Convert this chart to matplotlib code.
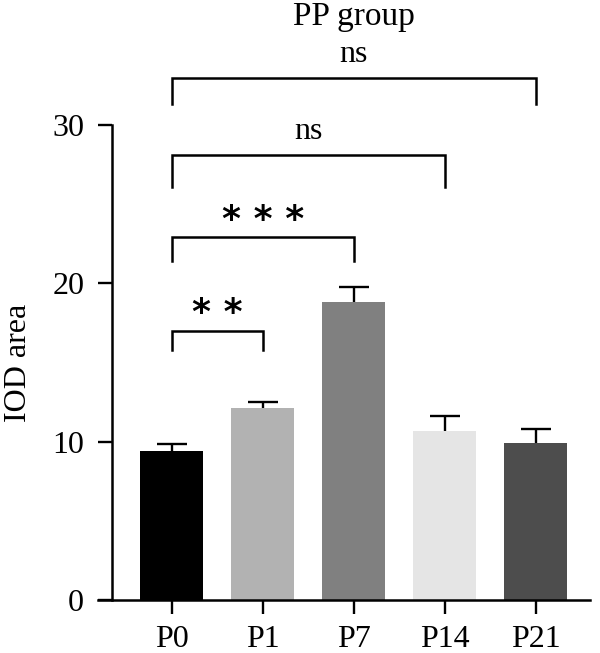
import matplotlib
matplotlib.use('Agg')
import matplotlib.pyplot as plt

plt.rcParams['font.family'] = ['Liberation Serif', 'DejaVu Serif']

groups = ['P0', 'P1', 'P7', 'P14', 'P21']
means = [9.4, 12.15, 18.85, 10.7, 9.9]
errors = [0.45, 0.35, 0.9, 0.95, 0.9]
colors = ['#000000', '#b2b2b2', '#808080', '#e5e5e5', '#4d4d4d']

# significance brackets: (start index, end index, bar height, leg bottom, label)
brackets = [
    (0, 1, 17.0, 15.8, '* *'),
    (0, 2, 22.9, 21.4, '* * *'),
    (0, 3, 28.1, 26.1, 'ns'),
    (0, 4, 33.0, 31.3, 'ns'),
]

fig = plt.figure(figsize=(6.0, 6.53), dpi=100)
ax = fig.add_axes([98 / 600, 53 / 653, 492 / 600, 475 / 653])

x = list(range(len(groups)))
ax.bar(x, means, width=0.69, color=colors, edgecolor='none', zorder=2)
eb = ax.errorbar(x, means, yerr=[[0] * len(errors), errors], fmt='none',
                 ecolor='black', elinewidth=1.7, capsize=11, capthick=1.7, zorder=1)
eb[1][0].set_visible(False)  # only the upper caps, as in the original

ax.set_xlim(-0.81, 4.597)
ax.set_ylim(0, 30)
ax.set_yticks([0, 10, 20, 30])
ax.set_xticks(x)
ax.set_xticklabels(groups)

for side in ['top', 'right']:
    ax.spines[side].set_visible(False)
ax.spines['left'].set_position(('data', -0.656))
ax.spines['left'].set_linewidth(1.8)
ax.spines['bottom'].set_linewidth(1.8)
ax.tick_params(axis='both', width=1.7, length=10, labelsize=23, direction='out')
ax.tick_params(axis='y', pad=10)
ax.tick_params(axis='x', pad=8)
ax.set_ylabel('IOD area', fontsize=23, labelpad=14)

for i, j, h, low, label in brackets:
    ax.plot([i, i, j, j], [low, h, h, low], color='black', lw=1.8,
            clip_on=False, solid_joinstyle='miter')
    if label == 'ns':
        ax.text((i + j) / 2, h + 1.0, label, ha='center', va='baseline',
                fontsize=23)
    else:
        ax.text((i + j) / 2, h + 1.1, label, ha='center', va='center',
                fontsize=26, family=['DejaVu Sans'], fontweight='bold')

ax.text(2, 36.3, 'PP group', ha='center', va='baseline', fontsize=24)

fig.savefig('out.png', dpi=100)
